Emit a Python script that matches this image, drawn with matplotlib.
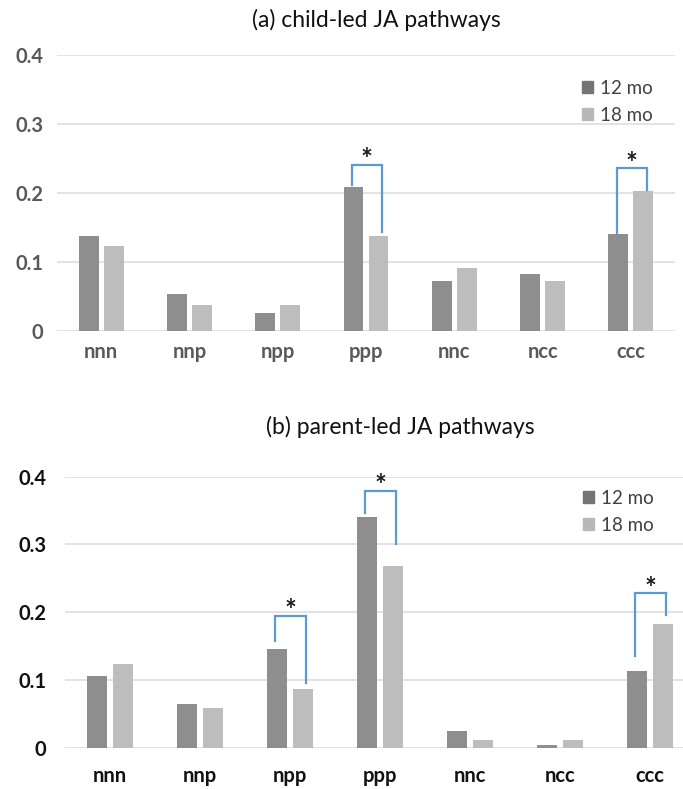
import matplotlib
matplotlib.use('Agg')
import matplotlib.pyplot as plt
import numpy as np
from matplotlib.patches import Patch

categories = ['nnn', 'nnp', 'npp', 'ppp', 'nnc', 'ncc', 'ccc']
child_12 = [0.138, 0.054, 0.026, 0.208, 0.072, 0.083, 0.140]
child_18 = [0.123, 0.038, 0.038, 0.137, 0.092, 0.073, 0.203]
parent_12 = [0.106, 0.065, 0.146, 0.340, 0.025, 0.004, 0.113]
parent_18 = [0.123, 0.059, 0.086, 0.268, 0.012, 0.012, 0.182]
yticks = [0, 0.1, 0.2, 0.3, 0.4]
ytick_labels = ['0', '0.1', '0.2', '0.3', '0.4']
series_labels = ['12 mo', '18 mo']
titles = ['(a) child-led JA pathways', '(b) parent-led JA pathways']
# significance brackets: (category, bracket top, left leg end, right leg end)
child_sig = [('ppp', 0.241, 0.211, 0.143), ('ccc', 0.236, 0.142, 0.205)]
parent_sig = [('npp', 0.195, 0.157, 0.095), ('ppp', 0.379, 0.347, 0.300),
              ('ccc', 0.228, 0.135, 0.196)]

FONT = ['Lato', 'DejaVu Sans']
plt.rcParams['font.family'] = FONT

C12 = '#8e8e8e'
C18 = '#bdbdbd'
L12 = '#747474'
L18 = '#b8b8b8'
BLUE = '#5b9bd5'
GRID = '#dedede'

fig = plt.figure(figsize=(6.83, 7.89), dpi=100)

def panel(rect, v12, v18, sig, tick_color, xpad, ypad, leg_anchor):
    ax = fig.add_axes(rect)
    x = np.arange(len(categories))
    w = 0.225
    off = 0.142
    ax.bar(x - off, v12, w, color=C12, label=series_labels[0], zorder=3)
    ax.bar(x + off, v18, w, color=C18, label=series_labels[1], zorder=3)
    ax.set_xlim(-0.5, len(categories) - 0.5)
    ax.set_ylim(0, 0.4)
    ax.set_yticks(yticks)
    ax.set_yticklabels(ytick_labels)
    ax.set_xticks(x)
    ax.set_xticklabels(categories)
    for s in ax.spines.values():
        s.set_visible(False)
    ax.yaxis.grid(True, color=GRID, linewidth=1.2, zorder=0)
    ax.tick_params(axis='both', length=0, colors=tick_color)
    ax.tick_params(axis='x', pad=xpad, labelsize=14.5)
    ax.tick_params(axis='y', pad=ypad, labelsize=14.5)
    for lab in ax.get_xticklabels() + ax.get_yticklabels():
        lab.set_fontweight('bold')
    for cat, top, yl, yr in sig:
        i = categories.index(cat)
        xl = i - off - 0.02
        xr = i + off + 0.04
        ax.plot([xl, xl, xr, xr], [yl, top, top, yr], color=BLUE, lw=1.6,
                zorder=4, solid_joinstyle='miter')
        ax.annotate('*', xy=((xl + xr) / 2, top), xytext=(0, -2.5),
                    textcoords='offset points', ha='center', va='baseline',
                    fontsize=20, fontweight='bold', color='#1a1a1a')
    handles = [Patch(color=L12), Patch(color=L18)]
    ax.legend(handles, series_labels, loc='upper left', bbox_to_anchor=leg_anchor,
              frameon=False, handlelength=0.6, handleheight=0.6,
              handletextpad=0.35, labelspacing=0.55, fontsize=13.5,
              labelcolor='#404040')
    return ax

panel([0.0835, 0.5805, 0.9048, 0.3498], child_12, child_18, child_sig,
      '#595959', 8, 10, (0.822, 0.972))
panel([0.0952, 0.0523, 0.9224, 0.3435], parent_12, parent_18, parent_sig,
      '#111111', 13, 13.5, (0.795, 1.015))

fig.text(376 / 683, 1 - 20 / 789, titles[0], ha='center', va='center',
         fontsize=16.5, color='#111111')
fig.text(400 / 683, 1 - 427 / 789, titles[1], ha='center', va='center',
         fontsize=16.5, color='#111111')

fig.savefig('out.png', dpi=100)
